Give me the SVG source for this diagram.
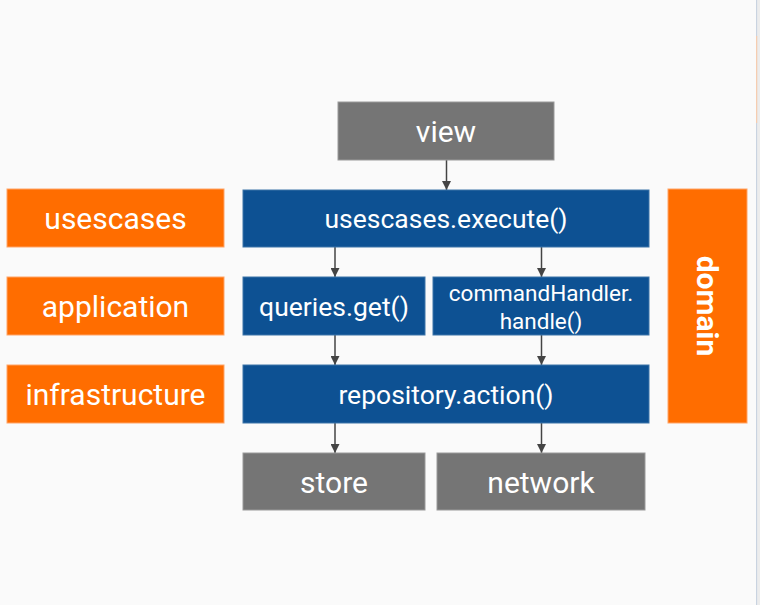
<svg xmlns="http://www.w3.org/2000/svg" width="760" height="605" viewBox="0 0 760 605">
<defs>
<style>
.bg{fill:#fafafa}
.blue{fill:#0d5193;stroke:#3d74a8;stroke-width:1}
.orange{fill:#ff6d00;stroke:#ffa466;stroke-width:1}
.gray{fill:#757575;stroke:#9a9a9a;stroke-width:1}
.t{fill:#ffffff;font-family:Roboto,"Liberation Sans",sans-serif;text-anchor:middle;dominant-baseline:central}
.l{font-size:30px}
.m{font-size:26.5px}
.s{font-size:22.5px}
.b{font-size:30px;font-weight:bold}
.c{stroke:#444444;stroke-width:1.5;fill:none;marker-end:url(#ah)}
</style>
<marker id="ah" viewBox="0 0 10 10" refX="10" refY="5" markerWidth="9" markerHeight="9" markerUnits="userSpaceOnUse" orient="auto">
<path d="M0,0 L10,5 L0,10 Z" fill="#444444"/>
</marker>
</defs>
<rect class="bg" x="0" y="0" width="760" height="605"/>
<rect x="756" y="0" width="1.5" height="605" fill="#c9d3e0"/>
<rect x="756" y="36" width="1.5" height="87" fill="#f6cdb0"/>
<rect x="757.5" y="0" width="2.5" height="605" fill="#ececec"/>

<g id="connectors">
<line class="c" x1="446.5" y1="160" x2="446.5" y2="190"/>
<line class="c" x1="335" y1="247" x2="335" y2="277"/>
<line class="c" x1="541.5" y1="247" x2="541.5" y2="277"/>
<line class="c" x1="335" y1="335" x2="335" y2="365"/>
<line class="c" x1="541.5" y1="335" x2="541.5" y2="365"/>
<line class="c" x1="335" y1="423" x2="335" y2="453"/>
<line class="c" x1="541.5" y1="423" x2="541.5" y2="453"/>
</g>

<g id="view"><rect class="gray" x="338" y="102" width="216" height="58"/><text class="t l" x="446" y="131">view</text></g>
<g id="execute"><rect class="blue" x="243" y="190" width="406" height="57"/><text class="t m" x="446" y="218.5">usescases.execute()</text></g>
<g id="queries"><rect class="blue" x="243" y="277" width="182" height="58"/><text class="t m" x="334" y="306">queries.get()</text></g>
<g id="command"><rect class="blue" x="433" y="277" width="216" height="58"/><text class="t s" x="541" y="293">commandHandler.</text><text class="t s" x="541" y="321">handle()</text></g>
<g id="repository"><rect class="blue" x="243" y="365" width="406" height="58"/><text class="t m" x="446" y="394">repository.action()</text></g>
<g id="store"><rect class="gray" x="243" y="453" width="182" height="57"/><text class="t l" x="334" y="482">store</text></g>
<g id="network"><rect class="gray" x="437" y="453" width="208" height="57"/><text class="t l" x="541" y="482">network</text></g>

<g id="usescases"><rect class="orange" x="7" y="189" width="217" height="58"/><text class="t l" x="115.5" y="218">usescases</text></g>
<g id="application"><rect class="orange" x="7" y="277" width="217" height="58"/><text class="t l" x="115.5" y="306">application</text></g>
<g id="infrastructure"><rect class="orange" x="7" y="365" width="217" height="58"/><text class="t l" x="115.5" y="394">infrastructure</text></g>
<g id="domain"><rect class="orange" x="668" y="189" width="79" height="234"/><text class="t b" transform="translate(707.5 306) rotate(90)" x="0" y="0">domain</text></g>
</svg>
